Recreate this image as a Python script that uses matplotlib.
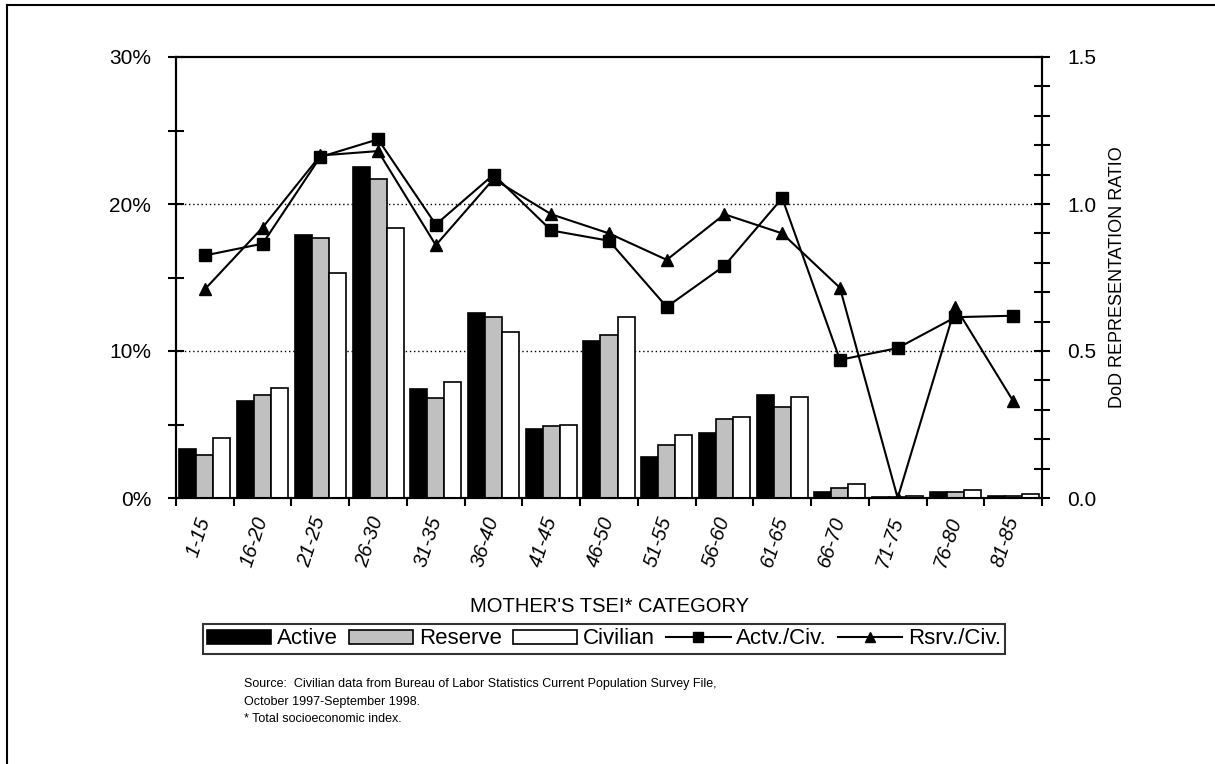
import matplotlib
matplotlib.use('Agg')
import matplotlib.pyplot as plt
from matplotlib.lines import Line2D
from matplotlib.ticker import MultipleLocator, FuncFormatter
import numpy as np

plt.rcParams['font.family'] = ['Liberation Sans', 'DejaVu Sans']

categories = ['1-15', '16-20', '21-25', '26-30', '31-35', '36-40', '41-45', '46-50',
              '51-55', '56-60', '61-65', '66-70', '71-75', '76-80', '81-85']

# percent of mothers in each TSEI category
active = [3.3, 6.6, 17.9, 22.5, 7.4, 12.6, 4.7, 10.7, 2.8, 4.4, 7.0, 0.4, 0.05, 0.4, 0.15]
reserve = [2.9, 7.0, 17.7, 21.7, 6.8, 12.3, 4.9, 11.1, 3.6, 5.4, 6.2, 0.7, 0.05, 0.4, 0.15]
civilian = [4.1, 7.5, 15.3, 18.4, 7.9, 11.3, 5.0, 12.3, 4.3, 5.5, 6.9, 0.95, 0.15, 0.55, 0.27]

# DoD representation ratios
actv_civ = [0.825, 0.865, 1.16, 1.22, 0.93, 1.10, 0.91, 0.875, 0.65, 0.79, 1.02, 0.47, 0.51, 0.615, 0.62]
rsrv_civ = [0.71, 0.92, 1.165, 1.18, 0.86, 1.085, 0.965, 0.90, 0.81, 0.965, 0.90, 0.715, 0.0, 0.65, 0.33]

fig = plt.figure(figsize=(12.15, 7.64), dpi=100)
ax = fig.add_axes([176 / 1215, 1 - 498 / 764, (1042 - 176) / 1215, (498 - 57) / 764])

x = np.arange(len(categories))
w = 0.295
ax.bar(x - w, active, w, color='black', edgecolor='black', linewidth=1.2, zorder=3)
ax.bar(x, reserve, w, color='#c0c0c0', edgecolor='black', linewidth=1.2, zorder=3)
ax.bar(x + w, civilian, w, color='white', edgecolor='black', linewidth=1.2, zorder=3)

for yv in (10, 20):
    ax.axhline(yv, color='black', linestyle=(0, (1, 2)), linewidth=1.0, zorder=1)

ax.set_xlim(-0.5, len(categories) - 0.5)
ax.set_ylim(0, 30)
ax.yaxis.set_major_locator(MultipleLocator(10))
ax.yaxis.set_minor_locator(MultipleLocator(5))
ax.yaxis.set_major_formatter(FuncFormatter(lambda v, p: f'{v:.0f}%'))
ax.tick_params(axis='y', which='both', direction='inout', length=12, width=1.5,
               labelsize=15, pad=12)
ax.set_xticks(np.arange(len(categories) + 1) - 0.5, minor=False)
ax.set_xticklabels([])
ax.tick_params(axis='x', which='major', direction='out', length=6, width=1.5)
ax.set_xticks(x, minor=True)
ax.set_xticklabels(categories, minor=True, rotation=72, ha='right', va='center',
                   rotation_mode='anchor', fontsize=14.5, style='italic')
ax.tick_params(axis='x', which='minor', length=0, pad=14)
for s in ax.spines.values():
    s.set_linewidth(1.5)

ax2 = ax.twinx()
ax2.plot(x, actv_civ, color='black', linewidth=1.5, marker='s', markersize=8, zorder=4)
ax2.plot(x, rsrv_civ, color='black', linewidth=1.5, marker='^', markersize=8, zorder=4)
ax2.set_ylim(0, 1.5)
ax2.yaxis.set_major_locator(MultipleLocator(0.5))
ax2.yaxis.set_minor_locator(MultipleLocator(0.1))
ax2.yaxis.set_major_formatter(FuncFormatter(lambda v, p: f'{v:.1f}'))
ax2.tick_params(axis='y', which='both', direction='inout', length=12, width=1.5,
                labelsize=15, pad=12)
for s in ax2.spines.values():
    s.set_linewidth(1.5)

fig.text(609 / 1215, 1 - 606 / 764, "MOTHER'S TSEI* CATEGORY", ha='center', va='center', fontsize=14.5)
fig.text(1117 / 1215, 1 - 277 / 764, 'DoD REPRESENTATION RATIO', ha='center', va='center',
         rotation=90, fontsize=13)

handles = [
    plt.Rectangle((0, 0), 1, 1, facecolor='black', edgecolor='black', linewidth=1.2),
    plt.Rectangle((0, 0), 1, 1, facecolor='#c0c0c0', edgecolor='black', linewidth=1.2),
    plt.Rectangle((0, 0), 1, 1, facecolor='white', edgecolor='black', linewidth=1.2),
    Line2D([], [], color='black', linewidth=1.5, marker='s', markersize=7),
    Line2D([], [], color='black', linewidth=1.5, marker='^', markersize=7),
]
labels = ['Active', 'Reserve', 'Civilian', 'Actv./Civ.', 'Rsrv./Civ.']
leg = fig.legend(handles, labels, loc='center', bbox_to_anchor=(604 / 1215, 1 - 639 / 764),
                 ncol=5, fontsize=16, frameon=True, fancybox=False, handlelength=2.9,
                 handleheight=0.6, handletextpad=0.25, columnspacing=0.5, borderpad=0.2,
                 borderaxespad=0)
leg.get_frame().set_edgecolor('black')
leg.get_frame().set_linewidth(1.5)

src = ['Source:  Civilian data from Bureau of Labor Statistics Current Population Survey File,',
       'October 1997-September 1998.',
       '* Total socioeconomic index.']
for i, line in enumerate(src):
    fig.text(244 / 1215, 1 - (684 + i * 17.5) / 764, line, ha='left', va='center', fontsize=9)

# outer frame (left and top edges visible)
fig.add_artist(Line2D([7 / 1215, 7 / 1215], [0, 1 - 5 / 764], color='black', linewidth=1.5))
fig.add_artist(Line2D([7 / 1215, 1], [1 - 5 / 764, 1 - 5 / 764], color='black', linewidth=1.5))

fig.savefig('out.png', dpi=100, facecolor='white')
